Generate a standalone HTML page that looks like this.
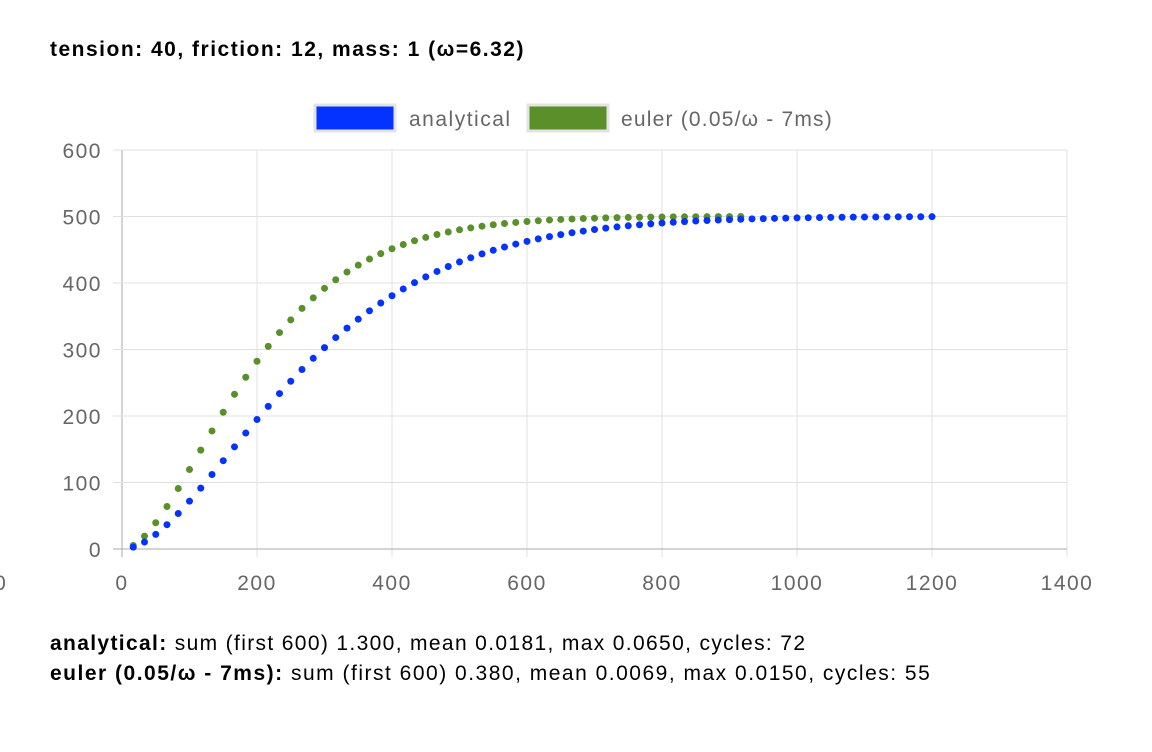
<!DOCTYPE html>
<html><head><meta charset="utf-8"><style>
body{margin:0;background:#fff;width:1152px;height:752px;overflow:hidden;font-family:"Liberation Sans",sans-serif}
.t{position:absolute;left:50px;font-size:21px;letter-spacing:1.35px;color:#000;white-space:nowrap}
</style></head><body>
<div class="t" style="top:38px;font-weight:bold;letter-spacing:1.5px">tension: 40, friction: 12, mass: 1 (ω=6.32)</div>
<svg id="s" width="1152" height="752" style="position:absolute;left:0;top:0" font-family="Liberation Sans, sans-serif"></svg>
<div class="t" style="top:632px"><b>analytical:</b> sum (first 600) 1.300, mean 0.0181, max 0.0650, cycles: 72</div>
<div class="t" style="top:662px;letter-spacing:1.5px"><b>euler (0.05/ω - 7ms):</b> sum (first 600) 0.380, mean 0.0069, max 0.0150, cycles: 55</div>
<script>
var s='';
function X(t){return 122+t*135/200}
function Y(v){return 549-v*0.665}
var ls=' letter-spacing="1.5"';
for(var i=0;i<=7;i++){var x=X(i*200);s+='<line x1="'+x+'" y1="150" x2="'+x+'" y2="557" stroke="'+(i==0?'#aaa':'#e0e0e0')+'" stroke-width="1"/>';
s+='<text x="'+x+'" y="590" font-size="21"'+ls+' fill="#666" text-anchor="middle">'+(i*200)+'</text>';}
for(var j=0;j<=6;j++){var y=Y(j*100);s+='<line x1="113" y1="'+y+'" x2="1067" y2="'+y+'" stroke="'+(j==0?'#aaa':'#e0e0e0')+'" stroke-width="1"/>';
s+='<text x="102" y="'+(y+8)+'" font-size="21"'+ls+' fill="#666" text-anchor="end">'+(j*100)+'</text>';}
s+='<text x="0" y="590" font-size="21" fill="#666" text-anchor="middle">0</text>';
function f(t){t/=1000;var e=Math.exp(-6*t);return 500*(1-e*(Math.cos(2*t)+3*Math.sin(2*t)))}
for(var k=1;k<=55;k++){var t=k*16.667;s+='<circle cx="'+X(t)+'" cy="'+Y(Math.min(500,f(t*1.45)))+'" r="3.5" fill="#5a8f29"/>';}
for(var k=1;k<=72;k++){var t=k*16.667;s+='<circle cx="'+X(t)+'" cy="'+Y(Math.min(500,f(t*1.04)))+'" r="3.5" fill="#0433ff"/>';}
s+='<rect x="315" y="105" width="80" height="26" fill="#0433ff" stroke="#e3e3e3" stroke-width="3"/>';
s+='<text x="409" y="126" font-size="21"'+ls+' fill="#666">analytical</text>';
s+='<rect x="528" y="105" width="80" height="26" fill="#5a8f29" stroke="#e3e3e3" stroke-width="3"/>';
s+='<text x="621" y="126" font-size="21" letter-spacing="1.2" fill="#666">euler (0.05/ω - 7ms)</text>';
document.getElementById('s').innerHTML=s;
</script>
</body></html>
